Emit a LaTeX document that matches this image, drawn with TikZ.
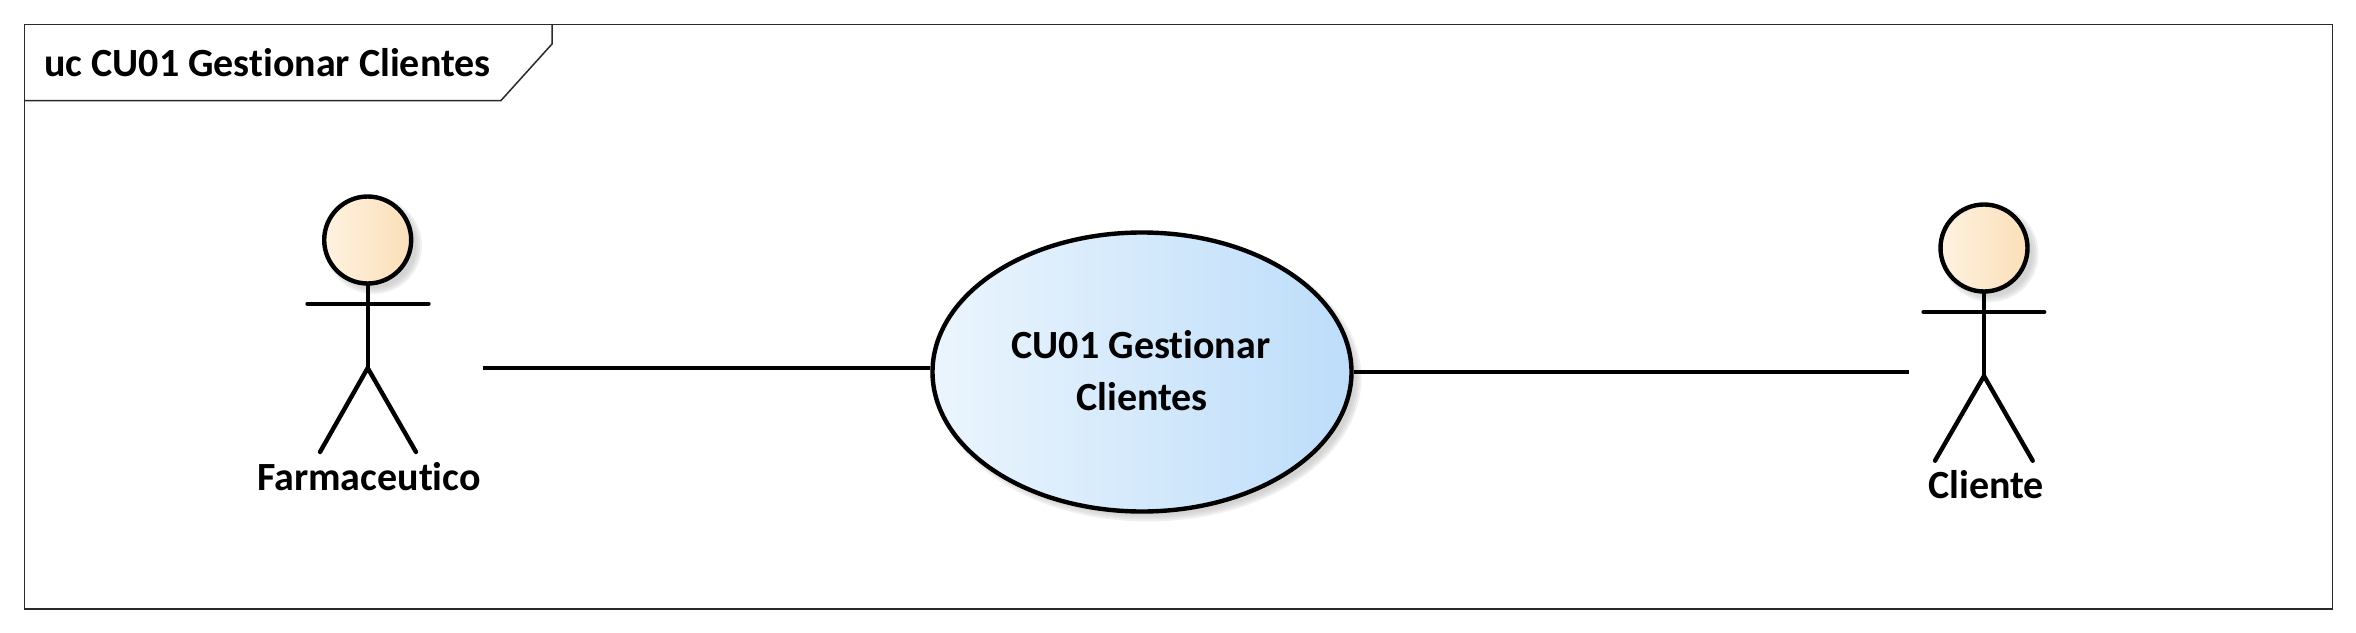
\documentclass[tikz,border=0pt]{standalone}
\usepackage{fontspec}
\setmainfont[Ligatures=NoCommon]{Carlito}
\usetikzlibrary{shapes.geometric}
\definecolor{framecol}{HTML}{2A2A2A}
\definecolor{shadowcol}{HTML}{B8B8B8}
\tikzset{
  framepath/.style={draw=framecol,line width=1.5pt},
  limb/.style={draw=black,line width=4.4pt,line cap=round},
  head/.style={circle,draw=black,line width=4.4pt,inner sep=0pt,minimum size=87pt,left color=headL,right color=headR},
  usecase/.style={ellipse,draw=black,line width=4.4pt,inner sep=0pt,minimum width=419pt,minimum height=279pt,left color=ucL,right color=ucR},
  label/.style={font=\fontsize{40}{40}\selectfont\bfseries,text=black,inner sep=0pt},
  softshadow/.style={fill=shadowcol,draw=none,fill opacity=0.2},
  assoc/.style={draw=black,line width=4pt}
}
\definecolor{headL}{HTML}{FEF2E0}
\definecolor{headR}{HTML}{FBDFB8}
\definecolor{ucL}{HTML}{EBF5FD}
\definecolor{ucR}{HTML}{BDDDFA}
\newcommand{\softcircle}[2]{%
  \foreach \d in {-2,0,2,4}{\fill[softshadow] (#1,#2) circle ({44.5pt+(2-\d)*1pt});}%
}
\begin{document}
\begin{tikzpicture}[x=1pt,y=-1pt]
\useasboundingbox (0,0) rectangle (2356,632);
\fill[white] (0,0) rectangle (2356,632);
% frame
\coordinate (fTL) at (24.5,24.5);
\coordinate (fBR) at (2332.5,609);
\draw[framepath] (fTL) rectangle (fBR);
\coordinate (tabA) at (24.5,100.5);
\coordinate (tabB) at (501,100.5);
\coordinate (tabC) at (552,44);
\coordinate (tabD) at (552,24.5);
\draw[framepath] (tabA) -- (tabB) -- (tabC) -- (tabD);
\node[label,anchor=base west] (title) at (44,76) {uc CU01 Gestionar Clientes};
% shadows
\softcircle{373.5}{245.5}
\softcircle{1990}{253.5}
\foreach \d in {-2,0,2,4}{\fill[softshadow] (1148,378) ellipse ({209.5pt+(2-\d)*1pt} and {139.5pt+(2-\d)*1pt});}
% use case
\node[usecase] (uc) at (1142,372) {};
\node[label,align=center,anchor=base] (uctextA) at (1141,358) {CU01 Gestionar};
\node[label,align=center,anchor=base] (uctextB) at (1142,410.5) {Clientes};
% actor Farmaceutico
\coordinate (fBody) at (367.7,368);
\coordinate (fArmL) at (307.5,303.7);
\coordinate (fArmR) at (428.5,303.7);
\coordinate (fLegL) at (320,452);
\coordinate (fLegR) at (416,452);
\node[head] (fHead) at (367.7,240) {};
\draw[limb] (fHead.south) -- (fBody);
\draw[limb] (fArmL) -- (fArmR);
\draw[limb] (fLegL) -- (fBody) -- (fLegR);
\node[label,anchor=base] (fLabel) at (369,490) {Farmaceutico};
% actor Cliente
\coordinate (cBody) at (1984,376);
\coordinate (cArmL) at (1923.5,312);
\coordinate (cArmR) at (2044.2,312);
\coordinate (cLegL) at (1935,460.7);
\coordinate (cLegR) at (2032.7,460.7);
\node[head] (cHead) at (1984,248) {};
\draw[limb] (cHead.south) -- (cBody);
\draw[limb] (cArmL) -- (cArmR);
\draw[limb] (cLegL) -- (cBody) -- (cLegR);
\node[label,anchor=base] (cLabel) at (1986,498.5) {Cliente};
% associations
\coordinate (fEnd) at (482.7,368);
\coordinate (cEnd) at (1909.3,372);
\draw[assoc] (fEnd) -- (fEnd -| uc.west);
\draw[assoc] (uc.east) -- (cEnd);
\end{tikzpicture}
\end{document}
